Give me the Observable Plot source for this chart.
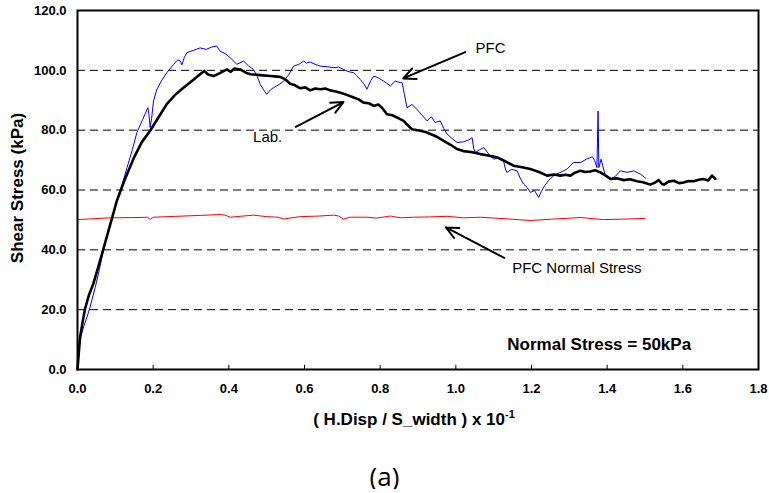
<!DOCTYPE html>
<html>
<head>
<meta charset="utf-8">
<script src="https://cdn.jsdelivr.net/npm/d3@7"></script>
<script src="https://cdn.jsdelivr.net/npm/@observablehq/plot@0.6"></script>
<style>
  html, body { margin: 0; padding: 0; background: white; }
  #chart svg { display: block; }
  #cap { text-align: center; font-family: "Open Sans", sans-serif; font-size: 26px; line-height: 26px; margin-top: 23px; color: black; width: 769px; }
</style>
</head>
<body>
<div id="chart"></div>
<div id="cap">(a)</div>
<script>
// ---- Data ----
const xTicks = [0.0, 0.2, 0.4, 0.6, 0.8, 1.0, 1.2, 1.4, 1.6, 1.8];
const yTicks = [0, 20, 40, 60, 80, 100, 120];
const gridY = [20, 40, 60, 80, 100];

const labX = [0.000,0.003,0.007,0.013,0.020,0.030,0.042,0.053,0.065,0.082,0.104,0.125,0.150,0.170,0.192,0.215,0.236,0.258,0.280,0.300,0.324,0.335,0.345,0.360,0.375,0.395,0.405,0.415,0.430,0.445,0.457,0.483,0.509,0.536,0.549,0.562,0.575,0.589,0.602,0.615,0.628,0.642,0.655,0.668,0.680,0.695,0.712,0.730,0.743,0.756,0.770,0.783,0.795,0.805,0.818,0.832,0.845,0.862,0.872,0.884,0.906,0.920,0.933,0.950,0.968,0.985,1.003,1.020,1.040,1.065,1.085,1.109,1.130,1.153,1.175,1.197,1.220,1.241,1.260,1.276,1.290,1.303,1.315,1.329,1.342,1.355,1.368,1.382,1.395,1.409,1.425,1.444,1.460,1.479,1.495,1.514,1.525,1.536,1.545,1.550,1.562,1.576,1.590,1.602,1.615,1.629,1.642,1.655,1.667,1.677,1.686];
const labY = [0.0,5.0,10.9,15.5,20.3,24.8,28.7,33.5,38.7,46.4,56.4,63.5,71.0,76.0,79.8,84.5,88.7,91.8,94.2,96.2,98.7,99.8,98.6,98.1,99.0,100.3,99.5,100.6,100.3,99.2,98.7,98.4,98.1,97.8,97.0,95.5,95.0,94.0,94.3,93.3,93.9,93.7,93.9,93.3,93.0,92.5,91.8,90.9,90.3,89.2,89.0,88.1,88.6,87.5,85.3,85.0,84.2,83.1,81.8,80.3,79.8,79.4,78.7,77.8,76.4,75.2,73.7,73.0,72.7,72.0,71.5,70.9,69.6,68.1,67.6,67.0,66.0,64.8,65.2,64.8,65.1,64.8,65.8,66.4,66.0,66.2,66.6,65.9,64.9,63.7,63.9,63.3,63.6,62.9,62.6,61.8,62.4,63.3,62.0,61.8,62.8,63.1,62.3,62.5,63.0,62.9,63.4,63.7,63.2,64.8,63.7];

const pfcX = [0,0.003,0.009,0.016,0.025,0.032,0.047,0.058,0.069,0.090,0.113,0.131,0.145,0.157,0.172,0.186,0.189,0.192,0.196,0.201,0.210,0.222,0.236,0.254,0.265,0.272,0.276,0.282,0.289,0.305,0.324,0.340,0.355,0.368,0.377,0.390,0.404,0.421,0.439,0.452,0.465,0.475,0.483,0.492,0.500,0.510,0.518,0.530,0.545,0.558,0.571,0.585,0.598,0.605,0.615,0.630,0.642,0.660,0.677,0.690,0.703,0.715,0.730,0.738,0.747,0.757,0.765,0.775,0.783,0.795,0.809,0.818,0.827,0.840,0.853,0.858,0.864,0.871,0.884,0.897,0.910,0.924,0.935,0.945,0.959,0.968,0.977,0.990,1.003,1.020,1.035,1.043,1.047,1.051,1.062,1.074,1.087,1.100,1.113,1.126,1.131,1.135,1.148,1.162,1.170,1.179,1.188,1.197,1.208,1.219,1.226,1.232,1.245,1.259,1.275,1.294,1.311,1.330,1.345,1.361,1.367,1.373,1.376,1.378,1.384,1.395,1.409,1.422,1.435,1.453,1.470,1.488,1.501];
const pfcY = [0,7.5,11.0,14.2,17.5,20.3,27.5,33.5,40.3,50.0,59.8,67.5,73.5,79.2,83.5,87.5,85.0,80.9,84.0,89.8,93.7,96.5,99.2,102.0,103.5,103.1,101.8,104.2,105.9,106.6,107.5,107.0,107.8,108.1,106.4,105.6,104.2,102.0,103.1,101.5,100.3,98.0,95.3,93.5,92.0,93.5,94.2,95.0,96.4,98.5,101.4,102.0,103.1,102.4,102.8,101.9,101.4,101.2,100.9,101.1,100.3,99.6,99.2,98.2,97.0,95.5,93.7,96.5,98.1,97.5,96.4,95.6,94.8,96.4,95.9,95.9,92.0,87.5,88.6,87.0,85.1,83.1,84.5,82.6,83.1,80.6,78.7,77.2,75.9,76.1,76.8,77.5,74.0,72.5,73.4,74.2,72.0,70.3,70.8,69.8,67.0,65.9,66.9,66.4,64.0,62.0,60.9,59.2,59.8,57.5,59.5,60.9,63.2,64.8,65.8,67.0,69.2,69.2,70.3,71.1,69.8,67.5,86.4,67.5,70.3,64.8,63.7,64.6,66.4,65.9,66.4,65.3,64.0];

const normX = [0,0.087,0.160,0.185,0.192,0.200,0.260,0.324,0.377,0.390,0.404,0.430,0.465,0.500,0.530,0.545,0.560,0.589,0.640,0.677,0.690,0.703,0.720,0.765,0.790,0.827,0.853,0.888,0.930,0.977,1.020,1.065,1.130,1.197,1.260,1.330,1.390,1.450,1.500];
const normY = [50.1,50.7,50.8,50.9,50.2,50.9,51.2,51.5,51.8,51.6,50.9,51.2,51.6,51.1,50.9,50.3,50.6,51.1,51.3,51.6,51.3,50.3,50.9,50.9,50.6,51.3,50.7,50.9,51.0,51.2,50.7,50.9,50.4,49.8,50.3,50.8,50.1,50.3,50.5];

// annotations (data coordinates)
const arrowX1 = [1.025, 0.577, 1.128];
const arrowY1 = [106.1, 81.1, 37.3];
const arrowX2 = [0.861, 0.703, 0.974];
const arrowY2 = [97.3, 89.4, 47.5];
const noteText = ["PFC", "Lab.", "PFC Normal Stress"];
const noteX = [1.052, 0.464, 1.149];
const noteY = [107.5, 77.5, 33.8];
const boldNote = ["Normal Stress = 50kPa"];
const boldNoteX = [1.136];
const boldNoteY = [8.4];

// ---- Build tables ----
const lab = labX.map((x, i) => ({x, y: labY[i]}));
const pfc = pfcX.map((x, i) => ({x, y: pfcY[i]}));
const norm = normX.map((x, i) => ({x, y: normY[i]}));
const arrows = arrowX1.map((x1, i) => ({x1, y1: arrowY1[i], x2: arrowX2[i], y2: arrowY2[i]}));
const notes = noteText.map((t, i) => ({t, x: noteX[i], y: noteY[i]}));
const bnotes = boldNote.map((t, i) => ({t, x: boldNoteX[i], y: boldNoteY[i]}));

const chart = Plot.plot({
  width: 769,
  height: 440,
  marginLeft: 77,
  marginRight: 11,
  marginTop: 10,
  marginBottom: 71,
  x: {domain: [0, 1.8]},
  y: {domain: [0, 120]},
  style: {fontFamily: "'Liberation Sans', Arial, sans-serif", fontSize: "13px", fontWeight: "bold", background: "white", color: "black", overflow: "visible"},
  marks: [
    Plot.ruleY(gridY, {stroke: "black", strokeWidth: 1, strokeDasharray: "8,5"}),
    Plot.ruleX(xTicks.slice(1, -1), {y1: 0, y2: 1.4, stroke: "black", strokeWidth: 1}),
    Plot.axisX({ticks: xTicks, tickSize: 0, tickPadding: 14, tickFormat: d => d.toFixed(1), label: null, fontWeight: "bold"}),
    Plot.axisY({ticks: yTicks, tickSize: 0, tickPadding: 11, tickFormat: d => d.toFixed(1), label: null, fontWeight: "bold"}),
    Plot.line(norm, {x: "x", y: "y", stroke: "#ff0000", strokeWidth: 1}),
    Plot.line(pfc, {x: "x", y: "y", stroke: "#0000ff", strokeWidth: 1}),
    Plot.line(lab, {x: "x", y: "y", stroke: "black", strokeWidth: 2.6}),
    Plot.frame({stroke: "black", strokeWidth: 2}),
    Plot.arrow(arrows, {x1: "x1", y1: "y1", x2: "x2", y2: "y2", stroke: "black", strokeWidth: 2, headLength: 10, headAngle: 50}),
    Plot.text(notes, {x: "x", y: "y", text: "t", textAnchor: "start", fontSize: 15, fontWeight: "normal", fill: "black"}),
    Plot.text(bnotes, {x: "x", y: "y", text: "t", textAnchor: "start", fontSize: 17, fontWeight: "bold", fill: "black"})
  ]
});

const svg = d3.select(chart);
// y-axis title
svg.append("text")
  .attr("transform", "translate(23,188) rotate(-90)")
  .attr("text-anchor", "middle")
  .attr("font-size", 17)
  .attr("font-weight", "bold")
  .attr("fill", "black")
  .text("Shear Stress (kPa)");
// x-axis title with superscript
const xt = svg.append("text")
  .attr("x", 414)
  .attr("y", 425)
  .attr("text-anchor", "middle")
  .attr("font-size", 17)
  .attr("font-weight", "bold")
  .attr("fill", "black");
xt.append("tspan").text("( H.Disp / S_width ) x 10");
xt.append("tspan").attr("dy", -7).attr("font-size", 11).text("-1");

document.getElementById("chart").appendChild(chart);
</script>
</body>
</html>
